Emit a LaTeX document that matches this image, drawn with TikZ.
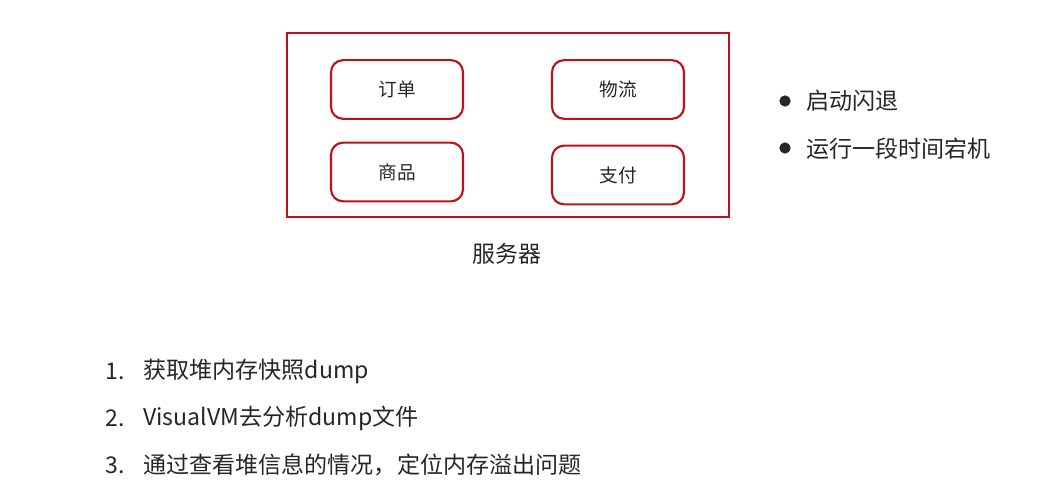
\documentclass[tikz,border=0pt]{standalone}
\usepackage{fontspec}
\setmainfont{Noto Sans CJK SC}
\definecolor{frame}{HTML}{C0101A}
\definecolor{txt}{HTML}{262626}
\begin{document}
\begin{tikzpicture}[x=0.75pt,y=-0.75pt,
  module/.style={draw=frame,line width=1.6pt,rounded corners=9pt,minimum width=99pt,minimum height=44pt,inner sep=0pt,text=txt,font=\fontsize{14}{16}\selectfont},
  lbl/.style={text=txt,font=\fontsize{17.2}{20}\selectfont,inner sep=0pt},
  item/.style={text=txt,font=\fontsize{17.3}{20}\selectfont,inner sep=0pt,anchor=west},
  dot/.style={circle,fill=txt,minimum size=8.5pt,inner sep=0pt}]
\useasboundingbox (0,0) rectangle (1055,496);
\node[draw=frame,line width=1.6pt,minimum width=331pt,minimum height=138pt,inner sep=0pt] (server) at (508,125) {};
\node[module] (order) at (397,89.5) {订单};
\node[module] (logi) at (618,89.5) {物流};
\node[module] (goods) at (397,172) {商品};
\node[module] (pay) at (618,175) {支付};
\node[lbl] (cap) at (507,254) {服务器};
\node[dot] (d1) at (785,101) {};
\node[dot] (d2) at (785,148) {};
\node[item] (b1) at (806,101) {启动闪退};
\node[item] (b2) at (806,149) {运行一段时间宕机};
\node[item] (n1) at (105,371) {1.};
\node[item] (n2) at (105,418) {2.};
\node[item] (n3) at (105,465) {3.};
\node[item] (t1) at (143,371) {获取堆内存快照dump};
\node[item] (t2) at (143,418) {VisualVM去分析dump文件};
\node[item] (t3) at (143,465) {通过查看堆信息的情况，定位内存溢出问题};
\end{tikzpicture}
\end{document}
